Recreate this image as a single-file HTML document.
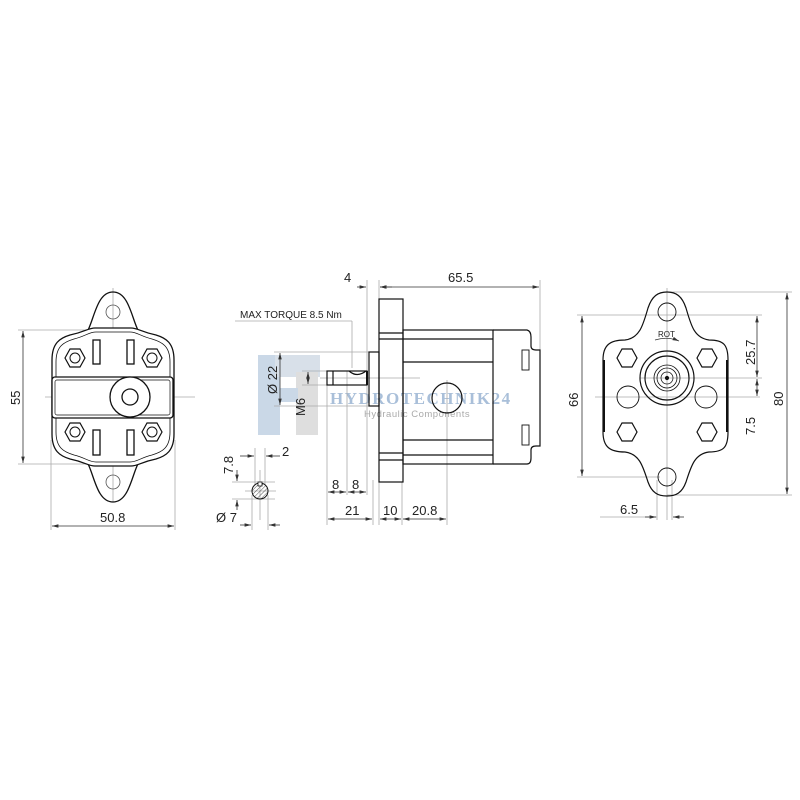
<!DOCTYPE html>
<html><head><style>html,body{margin:0;padding:0;background:#fff}svg{display:block}
text{font-family:"Liberation Sans",sans-serif;font-size:13px;fill:#222}</style></head>
<body>
<svg width="800" height="800" viewBox="0 0 800 800" xmlns="http://www.w3.org/2000/svg">
<defs>
<marker id="a" markerWidth="8" markerHeight="6" refX="8" refY="3" orient="auto-start-reverse"><path d="M0,0.8 L8,3 L0,5.2z" fill="#333"/></marker>
<pattern id="h" width="3" height="3" patternUnits="userSpaceOnUse" patternTransform="rotate(45)"><line x1="0" y1="0" x2="0" y2="3" stroke="#555" stroke-width="1"/></pattern>
<g id="hex"><polygon points="-10,0 -5,-9 5,-9 10,0 5,9 -5,9" fill="none" stroke="#111" stroke-width="1.2"/></g>
</defs>

<!-- watermark -->
<g opacity="0.75">
<rect x="258" y="355" width="22" height="80" fill="#b9cbe0"/>
<rect x="275" y="355" width="45" height="22" fill="#ccd6e2"/>
<rect x="296" y="372" width="22" height="63" fill="#d4d4d4"/>
<rect x="258" y="388" width="40" height="14" fill="#b9cbe0"/>
</g>
<text x="330" y="404" style="font-family:'Liberation Serif',serif;font-weight:bold;font-size:17px;letter-spacing:1.5px;fill:#a9bfd9">HYDROTECHNIK24</text>
<text x="364" y="417" style="font-size:9.5px;letter-spacing:0.5px;fill:#aaa">Hydraulic Components</text>

<g fill="none" stroke="#aaa" stroke-width="0.8">
<line x1="113" y1="288" x2="113" y2="502"/><line x1="45" y1="397" x2="195" y2="397"/>
<line x1="18" y1="330" x2="100" y2="330"/><line x1="18" y1="464" x2="100" y2="464"/>
<line x1="51" y1="440" x2="51" y2="530"/><line x1="175" y1="440" x2="175" y2="530"/>
<line x1="367" y1="280" x2="367" y2="495"/><line x1="379" y1="280" x2="379" y2="300"/><line x1="540" y1="280" x2="540" y2="400"/>
<line x1="327" y1="371" x2="327" y2="525"/><line x1="347" y1="371" x2="347" y2="495"/>
<line x1="373" y1="480" x2="373" y2="525"/><line x1="379" y1="482" x2="379" y2="525"/><line x1="402" y1="482" x2="402" y2="525"/>
<line x1="447" y1="380" x2="447" y2="525"/>
<line x1="320" y1="378" x2="420" y2="378"/>
<line x1="274" y1="352" x2="370" y2="352"/><line x1="274" y1="406" x2="370" y2="406"/>
<line x1="302" y1="371" x2="328" y2="371"/><line x1="302" y1="385" x2="328" y2="385"/>
<line x1="235" y1="321" x2="352" y2="321"/><line x1="352" y1="321" x2="352" y2="368"/>
<line x1="260" y1="470" x2="260" y2="520"/><line x1="255" y1="448" x2="255" y2="485"/><line x1="265" y1="448" x2="265" y2="485"/>
<line x1="232" y1="482" x2="275" y2="482"/><line x1="232" y1="499" x2="275" y2="499"/><line x1="245" y1="491" x2="276" y2="491"/>
<line x1="252" y1="495" x2="252" y2="530"/><line x1="268" y1="495" x2="268" y2="530"/>
<line x1="667" y1="288" x2="667" y2="520"/><line x1="595" y1="397" x2="760" y2="397"/>
<line x1="577" y1="315" x2="762" y2="315"/><line x1="577" y1="477" x2="660" y2="477"/>
<line x1="667" y1="292" x2="792" y2="292"/><line x1="667" y1="495" x2="792" y2="495"/>
<line x1="640" y1="378" x2="762" y2="378"/>
<line x1="657" y1="480" x2="657" y2="520"/><line x1="672" y1="480" x2="672" y2="520"/>
<line x1="600" y1="517" x2="657" y2="517"/>
</g>

<g fill="none" stroke="#333" stroke-width="0.8" marker-start="url(#a)" marker-end="url(#a)">
<line x1="23" y1="331" x2="23" y2="463"/>
<line x1="52" y1="526" x2="174" y2="526"/>
<line x1="380" y1="287" x2="539" y2="287"/>
<line x1="280" y1="353" x2="280" y2="405"/>
<line x1="308" y1="372" x2="308" y2="384"/>
<line x1="328" y1="492" x2="346" y2="492"/><line x1="348" y1="492" x2="366" y2="492"/>
<line x1="328" y1="519" x2="372" y2="519"/><line x1="380" y1="519" x2="401" y2="519"/><line x1="403" y1="519" x2="446" y2="519"/>
<line x1="582" y1="316" x2="582" y2="476"/><line x1="787" y1="293" x2="787" y2="494"/>
<line x1="757" y1="316" x2="757" y2="377"/><line x1="757" y1="379" x2="757" y2="396"/>
</g>
<g stroke="#333" stroke-width="0.8" marker-end="url(#a)">
<line x1="357" y1="287" x2="366" y2="287"/><line x1="392" y1="287" x2="380" y2="287"/>
<line x1="240" y1="456" x2="254" y2="456"/><line x1="280" y1="456" x2="266" y2="456"/>
<line x1="240" y1="525" x2="251" y2="525"/><line x1="280" y1="525" x2="269" y2="525"/>
<line x1="237" y1="470" x2="237" y2="481"/><line x1="237" y1="510" x2="237" y2="500"/>
<line x1="645" y1="517" x2="656" y2="517"/><line x1="684" y1="517" x2="673" y2="517"/>
</g>

<!-- LEFT VIEW -->
<g fill="none" stroke="#111" stroke-width="1.3">
<path d="M86,334 C94,322 96,292 113,292 C130,292 132,322 140,334 Z"/>
<path d="M86,460 C94,472 96,502 113,502 C130,502 132,472 140,460 Z"/>
<path d="M70,335 C60,338 52,343 52,360 L52,434 C52,451 60,456 70,459 C85,462 88,466 95,466 L131,466 C138,466 141,462 156,459 C166,456 174,451 174,434 L174,360 C174,343 166,338 156,335 C141,332 138,328 131,328 L95,328 C88,328 85,332 70,335 Z" fill="#fff"/>
<path d="M74,339 C64,342 56,346 56,362 L56,432 C56,448 64,452 74,455 C86,458 89,462 96,462 L130,462 C137,462 140,458 152,455 C162,452 170,448 170,432 L170,362 C170,346 162,342 152,339 C140,336 137,332 130,332 L96,332 C89,332 86,336 74,339 Z" stroke-width="0.8"/>
<rect x="52" y="377" width="121" height="41" rx="3" fill="#fff"/>
<rect x="55" y="380" width="115" height="35" rx="2" stroke-width="0.7"/>
<rect x="93" y="340" width="7" height="24"/><rect x="127" y="340" width="7" height="24"/>
<rect x="93" y="430" width="7" height="25"/><rect x="127" y="430" width="7" height="25"/>
<circle cx="130" cy="397" r="20" fill="#fff"/><circle cx="130" cy="397" r="8"/>
<circle cx="113" cy="312" r="7" stroke="#555" stroke-width="0.8"/><circle cx="113" cy="482" r="7" stroke="#555" stroke-width="0.8"/>
</g>
<g stroke="#111" fill="none">
<use href="#hex" transform="translate(75,358)"/><circle cx="75" cy="358" r="5"/>
<use href="#hex" transform="translate(152,358)"/><circle cx="152" cy="358" r="5"/>
<use href="#hex" transform="translate(75,432)"/><circle cx="75" cy="432" r="5"/>
<use href="#hex" transform="translate(152,432)"/><circle cx="152" cy="432" r="5"/>
</g>

<!-- MIDDLE VIEW -->
<g fill="none" stroke="#111" stroke-width="1.2">
<rect x="379" y="299" width="24" height="183"/>
<line x1="379" y1="333" x2="403" y2="333"/><line x1="379" y1="339" x2="403" y2="339"/>
<line x1="379" y1="453" x2="403" y2="453"/><line x1="379" y1="460" x2="403" y2="460"/>
<rect x="403" y="330" width="90" height="134"/>
<line x1="403" y1="339" x2="493" y2="339"/><line x1="403" y1="362" x2="493" y2="362"/>
<line x1="403" y1="440" x2="493" y2="440"/><line x1="403" y1="455" x2="493" y2="455"/>
<path d="M493,330 L527,330 Q531,331 531,337 L531,346 Q531,350 536,350 L540,350 L540,446 L536,446 Q531,446 531,450 L531,458 Q531,464 527,464 L493,464"/>
<rect x="522" y="350" width="7" height="20" stroke-width="0.9"/><rect x="522" y="425" width="7" height="20" stroke-width="0.9"/>
<circle cx="447" cy="398" r="15"/>
<rect x="369" y="352" width="10" height="54"/>
<path d="M367,371 L367,385" stroke-width="2"/>
<rect x="327" y="371" width="40" height="14"/>
<line x1="333" y1="371" x2="333" y2="385"/>
<path d="M349,371 Q357,378 366,371"/>
</g>

<circle cx="260" cy="491" r="8" fill="url(#h)" stroke="#111" stroke-width="1"/>
<rect x="258" y="482" width="4" height="4" fill="#fff" stroke="#111" stroke-width="0.8"/>

<!-- RIGHT VIEW -->
<g fill="none" stroke="#111" stroke-width="1.2">
<path d="M603,360 C603,345 610,340 625,340 C640,338 643,325 648,308 C652,296 658,292 667,292 C676,292 682,296 686,308 C691,325 694,338 709,340 C724,340 728,345 728,360 L728,432 C728,447 724,452 709,452 C694,454 691,467 686,482 C682,493 676,496 667,496 C658,496 652,493 648,482 C643,467 640,454 625,452 C610,452 603,447 603,432 Z"/>
<path d="M604,360 L604,432" stroke-width="2"/><path d="M727,360 L727,432" stroke-width="2"/>
<circle cx="667" cy="312" r="9" stroke-width="0.9"/><circle cx="667" cy="477" r="9" stroke-width="0.9"/>
<circle cx="628" cy="397" r="11" stroke-width="0.9"/><circle cx="706" cy="397" r="11" stroke-width="0.9"/>
<circle cx="667" cy="378" r="27"/><circle cx="667" cy="378" r="22"/>
<circle cx="667" cy="378" r="13" stroke-width="0.8"/><circle cx="667" cy="378" r="10" stroke-width="0.8"/><circle cx="667" cy="378" r="6" stroke-width="0.8"/>
<circle cx="667" cy="378" r="1.5" fill="#111"/>
</g>
<g stroke="#111" fill="none">
<use href="#hex" transform="translate(627,358)"/><use href="#hex" transform="translate(707,358)"/>
<use href="#hex" transform="translate(627,432)"/><use href="#hex" transform="translate(707,432)"/>
</g>
<path d="M655,340 Q667,336 679,341" fill="none" stroke="#333" stroke-width="0.8" marker-end="url(#a)"/>
<text x="658" y="337" style="font-size:8px">ROT</text>

<text transform="translate(20,405) rotate(-90)">55</text>
<text x="100" y="522">50.8</text>
<text x="344" y="282">4</text>
<text x="448" y="282">65.5</text>
<text x="240" y="318" style="font-size:10px">MAX TORQUE 8.5 Nm</text>
<text transform="translate(277,394) rotate(-90)">Ø 22</text>
<text transform="translate(305,416) rotate(-90)">M6</text>
<text x="332" y="489">8</text><text x="352" y="489">8</text>
<text x="345" y="515">21</text><text x="383" y="515">10</text><text x="412" y="515">20.8</text>
<text x="282" y="456">2</text>
<text transform="translate(233,474) rotate(-90)">7.8</text>
<text x="216" y="522">Ø 7</text>
<text transform="translate(578,407) rotate(-90)">66</text>
<text transform="translate(783,406) rotate(-90)">80</text>
<text transform="translate(755,365) rotate(-90)">25.7</text>
<text transform="translate(755,435) rotate(-90)">7.5</text>
<text x="620" y="514">6.5</text>
</svg>
</body></html>
